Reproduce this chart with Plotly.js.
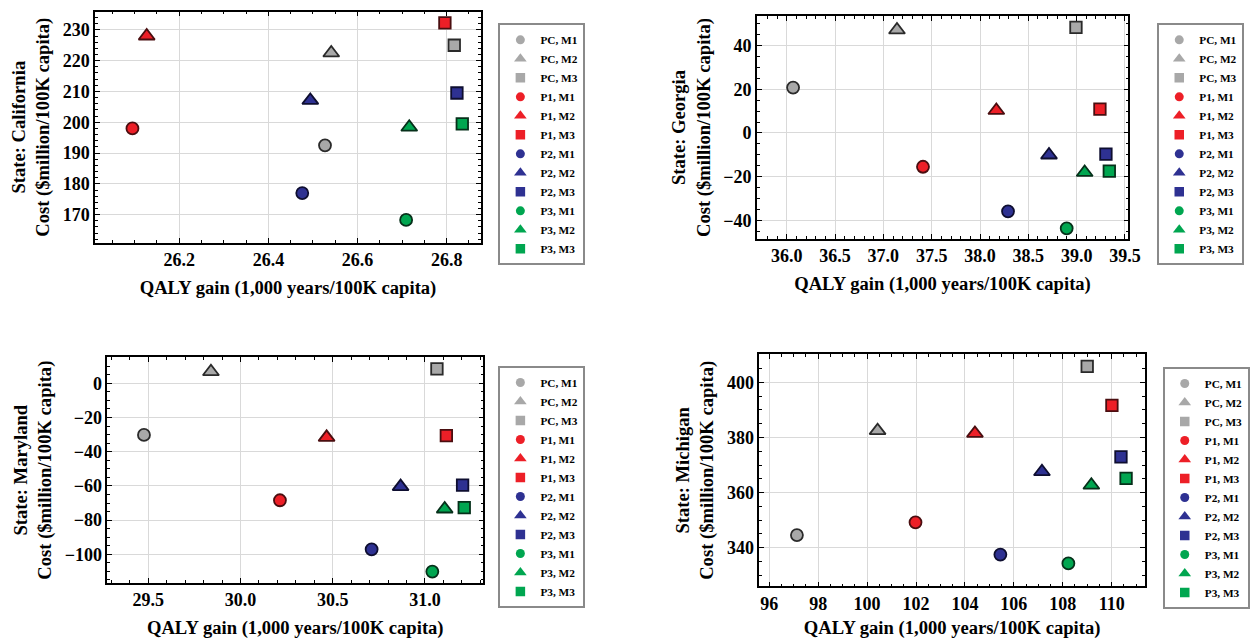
<!DOCTYPE html>
<html>
<head>
<meta charset="utf-8">
<script src="https://cdn.plot.ly/plotly-3.0.1.min.js"></script>
<style>
html,body{margin:0;padding:0;background:#ffffff;}
#chart{width:1250px;height:639px;}
</style>
</head>
<body>
<div id="chart"></div>
<script>
// ---------------- data ----------------
const seriesLabels = ['PC, M1','PC, M2','PC, M3','P1, M1','P1, M2','P1, M3','P2, M1','P2, M2','P2, M3','P3, M1','P3, M2','P3, M3'];
const stateNames = ['California','Georgia','Maryland','Michigan'];

const caQaly = [26.527, 26.541, 26.817, 26.095, 26.127, 26.796, 26.476, 26.494, 26.823, 26.709, 26.716, 26.835];
const caCost = [192.5, 222.5, 225.0, 198.0, 228.0, 232.3, 177.0, 207.1, 209.5, 168.3, 198.4, 199.5];

const gaQaly = [36.066, 37.141, 38.993, 37.410, 38.169, 39.241, 38.290, 38.714, 39.303, 38.897, 39.083, 39.338];
const gaCost = [20.8, 47.2, 48.4, -15.5, 10.3, 10.9, -35.9, -10.1, -9.7, -43.7, -18.1, -17.5];

const mdQaly = [29.477, 29.840, 31.065, 30.214, 30.467, 31.116, 30.711, 30.868, 31.204, 31.040, 31.107, 31.213];
const mdCost = [-30.2, 6.8, 8.4, -68.4, -31.6, -30.6, -97.1, -60.4, -59.5, -110.1, -73.5, -72.7];

const miQaly = [97.131, 100.43, 109.00, 101.98, 104.41, 110.01, 105.45, 107.15, 110.38, 108.23, 109.17, 110.59];
const miCost = [344.6, 382.5, 405.8, 349.2, 381.5, 391.7, 337.5, 367.6, 373.0, 334.3, 362.7, 365.2];

const xTitle = 'QALY gain (1,000 years/100K capita)';
const yTitleSuffix = 'Cost ($million/100K capita)';

// ---------------- styles ----------------
const fillColors = ['#a8a8a8','#ed1f27','#2e3192','#00a650'];
const edgeColors = ['#2a2a2a','#4a0e10','#0e0e30','#06301a'];
const symbols = ['circle','triangle-up','square'];
const markerSizes = {'circle':12, 'triangle-up':14, 'square':11.5};
const legendSizes = {'circle':9, 'triangle-up':11, 'square':9.5};
const fontFam = 'Liberation Serif';

const panels = [
  {q: caQaly, c: caCost, ax: '', xr: [26.011, 26.877], yr: [160.9, 235.9], xd: 0.2, x0: 26.2, xm: 0.05, yd: 10, ym: 2, xf: '.1f',
   xdom: [0.0760, 0.3848], ydom: [0.6202, 0.9817], lx: 0.3987, ly: 0.9635, lg: 'legend'},
  {q: gaQaly, c: gaCost, ax: '2', xr: [35.690, 39.534], yr: [-48.6, 53.6], xd: 0.5, x0: 36, xm: 0.1, yd: 20, ym: 5, xf: '.1f',
   xdom: [0.6054, 0.9026], ydom: [0.6260, 0.9750], lx: 0.9258, ly: 0.9635, lg: 'legend2'},
  {q: mdQaly, c: mdCost, ax: '3', xr: [29.278, 31.316], yr: [-116.8, 15.2], xd: 0.5, x0: 29.5, xm: 0.1, yd: 20, ym: 5, xf: '.1f',
   xdom: [0.0858, 0.3866], ydom: [0.0876, 0.4408], lx: 0.3987, ly: 0.4272, lg: 'legend3'},
  {q: miQaly, c: miCost, ax: '4', xr: [95.591, 111.363], yr: [326.0, 410.2], xd: 2, x0: 96, xm: 0.5, yd: 20, ym: 5, xf: 'd',
   xdom: [0.6074, 0.9160], ydom: [0.0825, 0.4455], lx: 0.9302, ly: 0.4257, lg: 'legend4'}
];

const traces = [];
const layout = {
  width: 1250, height: 639,
  margin: {l: 0, r: 0, t: 0, b: 0},
  paper_bgcolor: '#ffffff', plot_bgcolor: '#ffffff',
  font: {family: fontFam, color: '#000000'},
  showlegend: true
};

panels.forEach(function(p, pi) {
  const xa = 'x' + p.ax, ya = 'y' + p.ax;
  for (let i = 0; i < seriesLabels.length; i++) {
    const g = Math.floor(i / 3), s = symbols[i % 3];
    traces.push({
      type: 'scatter', mode: 'markers', xaxis: xa, yaxis: ya,
      x: [p.q[i]], y: [p.c[i]], name: seriesLabels[i], showlegend: false,
      marker: {symbol: s, size: markerSizes[s], color: fillColors[g], line: {color: edgeColors[g], width: 1.8}},
      hovertemplate: seriesLabels[i] + '<br>%{x}, %{y}<extra>' + stateNames[pi] + '</extra>'
    });
  }
  for (let i = 0; i < seriesLabels.length; i++) {
    const g = Math.floor(i / 3), s = symbols[i % 3];
    traces.push({
      type: 'scatter', mode: 'markers', xaxis: xa, yaxis: ya,
      x: [null], y: [null], name: seriesLabels[i], legend: p.lg, showlegend: true,
      marker: {symbol: s, size: legendSizes[s], color: fillColors[g], line: {width: 0}}
    });
  }
  const tickFont = {family: fontFam, size: 18, color: '#000', weight: 'bold'};
  const titleFont = {family: fontFam, size: 18.6, color: '#000', weight: 'bold'};
  const common = {
    showgrid: true, gridcolor: '#d9d9d9', gridwidth: 1,
    showline: true, linecolor: '#000', linewidth: 1.5, mirror: 'ticks',
    ticks: 'inside', ticklen: 5, tickwidth: 1, tickcolor: '#000',
    zeroline: false, tickfont: tickFont, fixedrange: true
  };
  layout['xaxis' + p.ax] = Object.assign({}, common, {
    domain: p.xdom, anchor: ya, range: p.xr, tickmode: 'linear', tick0: p.x0, dtick: p.xd, tickformat: p.xf,
    minor: {dtick: p.xm, tick0: p.x0, ticks: 'inside', ticklen: 3, tickcolor: '#000', tickwidth: 1, showgrid: false},
    title: {text: xTitle, font: titleFont, standoff: 12}
  });
  layout['yaxis' + p.ax] = Object.assign({}, common, {
    domain: p.ydom, anchor: xa, range: p.yr, tickmode: 'linear', tick0: 0, dtick: p.yd,
    minor: {dtick: p.ym, tick0: 0, ticks: 'inside', ticklen: 3, tickcolor: '#000', tickwidth: 1, showgrid: false},
    title: {text: 'State: ' + stateNames[pi] + '<br>' + yTitleSuffix, font: titleFont, standoff: 8}
  });
  layout[p.lg] = {
    x: p.lx, y: p.ly, xanchor: 'left', yanchor: 'top',
    bgcolor: '#ffffff', bordercolor: '#8a8a8a', borderwidth: 2,
    font: {family: fontFam, size: 11.3, color: '#000', weight: 'bold'},
    tracegroupgap: 0, itemwidth: 30
  };
});

Plotly.newPlot('chart', traces, layout, {displayModeBar: false, staticPlot: false});
</script>
</body>
</html>
